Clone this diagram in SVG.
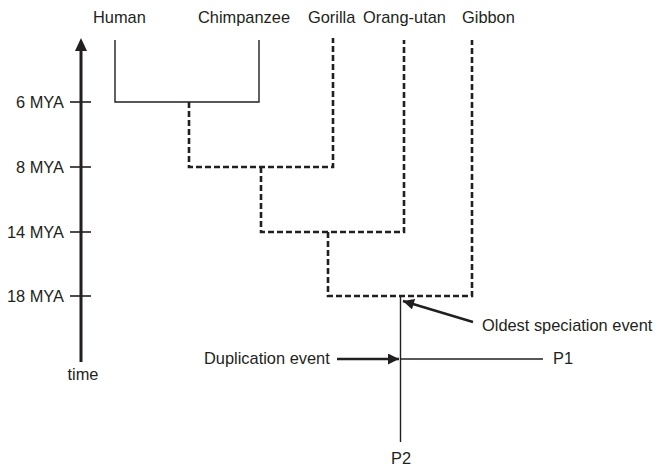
<svg xmlns="http://www.w3.org/2000/svg" width="667" height="467" viewBox="0 0 667 467">
<defs>
<style>
text{font-family:"Liberation Sans",Arial,sans-serif;font-size:16.4px;fill:#231f20}
.solid{stroke:#231f20;stroke-width:1.4;fill:none}
.dash{stroke:#231f20;stroke-width:2.6;fill:none;stroke-dasharray:6 3}
.axis{stroke:#231f20;stroke-width:3;fill:none}
.tick{stroke:#231f20;stroke-width:1.6;fill:none}
.arr{stroke:#231f20;stroke-width:2.4;fill:none}
</style>
<marker id="ah" viewBox="0 0 10 10" refX="10" refY="5" markerWidth="12" markerHeight="11" markerUnits="userSpaceOnUse" orient="auto">
<path d="M0,0 L10,5 L0,10 Z" fill="#231f20"/>
</marker>
</defs>
<rect width="667" height="467" fill="#ffffff"/>
<g id="axis">
<line class="axis" x1="81" y1="48" x2="81" y2="362"/>
<path d="M75,51 L81,38 L87,51 Z" fill="#231f20"/>
<line class="tick" x1="70" y1="102" x2="91" y2="102"/>
<line class="tick" x1="70" y1="167" x2="91" y2="167"/>
<line class="tick" x1="70" y1="232" x2="91" y2="232"/>
<line class="tick" x1="70" y1="296" x2="91" y2="296"/>
<text x="64" y="108" text-anchor="end">6 MYA</text>
<text x="64" y="173" text-anchor="end">8 MYA</text>
<text x="64" y="238" text-anchor="end">14 MYA</text>
<text x="64" y="302" text-anchor="end">18 MYA</text>
<text x="83" y="380" text-anchor="middle">time</text>
</g>
<g id="human"><text x="93" y="23">Human</text></g>
<g id="chimpanzee"><text x="198" y="23">Chimpanzee</text></g>
<g id="gorilla"><text x="308" y="23">Gorilla</text></g>
<g id="orangutan"><text x="363" y="23">Orang-utan</text></g>
<g id="gibbon"><text x="462" y="23">Gibbon</text></g>
<g id="p1"><text x="553" y="364">P1</text></g>
<g id="p2"><text x="401" y="464" text-anchor="middle">P2</text></g>
<g id="duplication"><text x="204" y="364">Duplication event</text></g>
<g id="speciation"><text x="482" y="331">Oldest speciation event</text></g>
<g id="connectors">
<path class="solid" d="M115,40 V102 H259 V40"/>
<path class="dash" d="M189,102 V167 H333 V38"/>
<path class="dash" d="M261,167 V232 H404 V40"/>
<path class="dash" d="M328,232 V296 H472 V40"/>
<path class="solid" d="M400.5,296 V442"/>
<path class="solid" d="M400.5,359 H543"/>
<line class="arr" x1="337" y1="359" x2="399" y2="359" marker-end="url(#ah)"/>
<line class="arr" x1="473" y1="322" x2="403" y2="301" marker-end="url(#ah)"/>
</g>
</svg>
